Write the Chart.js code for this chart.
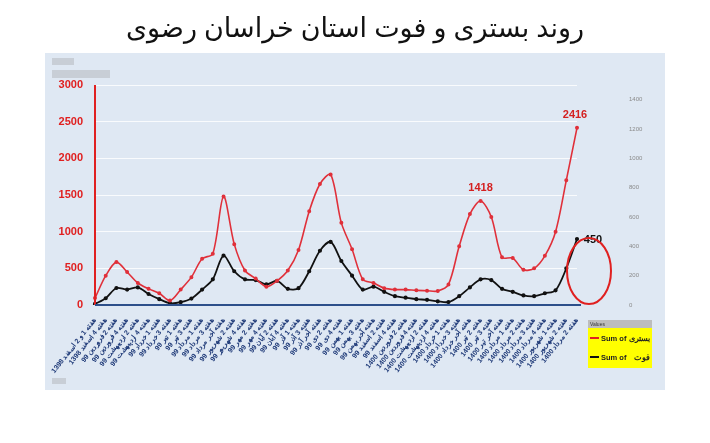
<!DOCTYPE html>
<html>
<head>
<meta charset="utf-8">
<script src="https://cdn.jsdelivr.net/npm/chart.js@4"></script>
<style>
  body { margin: 0; background: #fff; width: 710px; height: 443px; overflow: hidden; }
  #title { position: absolute; top: 8px; left: 0; width: 710px; text-align: center; font-family: "Noto Sans", "DejaVu Sans", sans-serif; font-size: 27px; color: #111; direction: rtl; }
  #wrap { position: absolute; left: 0; top: 0; width: 710px; height: 443px; }
</style>
</head>
<body>
<div id="wrap"><canvas id="c" width="710" height="443"></canvas></div>
<div id="title">روند بستری و فوت استان خراسان رضوی</div>
<script>
// weekly labels (Persian calendar)
const weeks = [
  'هفته 1 و 2 اسفند 1398', 'هفته 4 اسفند 1398', 'هفته 2 فروردین 99', 'هفته 4 فروردین 99',
  'هفته 2 اردیبهشت 99', 'هفته 4 اردیبهشت 99', 'هفته 1 خرداد 99', 'هفته 3 خرداد 99',
  'هفته 1 تیر 99', 'هفته 3 تیر 99', 'هفته 1 مرداد 99', 'هفته 3 مرداد 99',
  'هفته آخر مرداد 99', 'هفته 2 شهریور 99', 'هفته 4 شهریور 99', 'هفته 2 مهر 99',
  'هفته 4 مهر 99', 'هفته 2 آبان 99', 'هفته 4 آبان 99', 'هفته 1 آذر 99',
  'هفته 3 آذر 99', 'هفته آخر آذر 99', 'هفته 2 دی 99', 'هفته 4 دی 99',
  'هفته 1 بهمن 99', 'هفته 3 بهمن 99', 'هفته آخر بهمن 99', 'هفته 2 اسفند 99',
  'هفته 4 اسفند 99', 'هفته 2 فروردین 1400', 'هفته 4 فروردین 1400', 'هفته 2 اردیبهشت 1400',
  'هفته 4 اردیبهشت 1400', 'هفته 1 خرداد 1400', 'هفته 3 خرداد 1400', 'هفته آخر خرداد 1400',
  'هفته 2 تیر 1400', 'هفته 3 تیر 1400', 'هفته آخر تیر 1400', 'هفته 1 مرداد 1400',
  'هفته 2 مرداد 1400', 'هفته 3 مرداد 1400', 'هفته 4 مرداد 1400', 'هفته 1 شهریور 1400',
  'هفته 2 شهریور 1400', 'هفته 2 مرداد 1400'
];
// بستری (left axis)
const hospital = [94, 400, 585, 450, 300, 220, 160, 60, 210, 380, 630, 700, 1480, 830, 470, 360,
  250, 330, 470, 750, 1280, 1650, 1780, 1120, 760, 350, 300, 230, 210, 210, 200, 195,
  190, 280, 800, 1240, 1418, 1200, 650, 640, 480, 500, 670, 1000, 1700, 2416];
// فوت (right axis)
const deaths = [7, 46, 116, 105, 120, 75, 40, 12, 19, 44, 105, 175, 337, 230, 175, 170,
  140, 165, 110, 115, 230, 370, 430, 300, 200, 105, 125, 90, 60, 50, 40, 35,
  25, 20, 60, 120, 175, 170, 110, 90, 65, 60, 80, 100, 250, 450];

const font = '"Liberation Sans", Arial, sans-serif';

const decor = {
  id: 'decor',
  beforeDraw(chart) {
    const ctx = chart.ctx;
    ctx.save();
    ctx.fillStyle = '#dfe8f3';
    ctx.fillRect(45, 53, 620, 337);
    // small pivot buttons
    ctx.fillStyle = '#c8ced6';
    ctx.fillRect(52, 58, 22, 7);
    ctx.fillRect(52, 70, 58, 8);
    ctx.fillRect(52, 378, 14, 6);
    ctx.restore();
  },
  afterDraw(chart) {
    const ctx = chart.ctx;
    const x = chart.scales.x, yl = chart.scales.y, yr = chart.scales.y1;
    const a = chart.chartArea;
    ctx.save();
    // axes lines
    ctx.strokeStyle = '#e02020'; ctx.lineWidth = 2;
    ctx.beginPath(); ctx.moveTo(a.left, a.bottom); ctx.lineTo(a.left, yl.getPixelForValue(3000)); ctx.stroke();
    ctx.strokeStyle = '#2d4f8a';
    ctx.beginPath(); ctx.moveTo(a.left, a.bottom); ctx.lineTo(a.right + 4, a.bottom); ctx.stroke();
    // annotations
    ctx.font = 'bold 11px ' + font;
    ctx.textAlign = 'center';
    ctx.fillStyle = '#d42020';
    let i = 36;
    ctx.fillText('1418', x.getPixelForValue(i), yl.getPixelForValue(hospital[i]) - 10);
    i = hospital.length - 1;
    ctx.fillText('2416', x.getPixelForValue(i) - 2, yl.getPixelForValue(hospital[i]) - 10);
    ctx.fillStyle = '#111';
    ctx.fillText('450', x.getPixelForValue(i) + 16, yr.getPixelForValue(deaths[i]) + 4);
    // red ellipse
    ctx.strokeStyle = '#e02020'; ctx.lineWidth = 2;
    ctx.beginPath();
    ctx.ellipse(x.getPixelForValue(i) + 12, yr.getPixelForValue(deaths[i]) + 32, 22, 33, 0, 0, Math.PI * 2);
    ctx.stroke();
    // legend
    ctx.fillStyle = '#bdbdbd'; ctx.fillRect(588, 320, 64, 8);
    ctx.fillStyle = '#ffff00'; ctx.fillRect(588, 328, 64, 40);
    ctx.font = '5px ' + font; ctx.fillStyle = '#333'; ctx.textAlign = 'left';
    ctx.fillText('Values', 590, 326);
    ctx.font = 'bold 7.5px ' + font;
    [['#e02020', 'بستری', 338], ['#111', 'فوت', 357]].forEach(([c, t, yy]) => {
      ctx.strokeStyle = c; ctx.lineWidth = 2;
      ctx.beginPath(); ctx.moveTo(590, yy); ctx.lineTo(599, yy); ctx.stroke();
      ctx.fillStyle = '#222';
      ctx.textAlign = 'left';
      ctx.fillText('Sum of', 601, yy + 3);
      ctx.textAlign = 'right';
      ctx.fillText(t, 650, yy + 3);
    });
    ctx.restore();
  }
};

new Chart(document.getElementById('c'), {
  type: 'line',
  data: {
    labels: weeks,
    datasets: [
      { label: 'بستری Sum of', data: hospital, yAxisID: 'y', borderColor: '#e0303a', backgroundColor: '#e0303a',
        borderWidth: 1.6, pointRadius: 1.2, tension: 0.3 },
      { label: 'فوت Sum of', data: deaths, yAxisID: 'y1', borderColor: '#111', backgroundColor: '#111',
        borderWidth: 1.8, pointRadius: 1.2, tension: 0.3 }
    ]
  },
  options: {
    responsive: false,
    animation: false,
    layout: { padding: { left: 45, right: 63, top: 85, bottom: 50 } },
    plugins: { legend: { display: false }, tooltip: { enabled: false } },
    scales: {
      x: {
        grid: { display: false },
        border: { display: false },
        afterFit: s => { s.height = 88; },
        ticks: { autoSkip: false, minRotation: 52, maxRotation: 52, color: '#1f3a78', font: { family: font, size: 7, weight: 'bold' } }
      },
      y: {
        position: 'left', min: 0, max: 3000,
        afterFit: s => { s.width = 50; },
        border: { display: false },
        grid: { color: 'rgba(255,255,255,0.8)', drawTicks: false },
        ticks: { stepSize: 500, padding: 12, color: '#e02020', font: { family: font, size: 11, weight: 'bold' },
          callback: v => String(v) }
      },
      y1: {
        position: 'right', min: 0, max: 1500,
        afterFit: s => { s.width = 70; },
        border: { display: false },
        grid: { display: false, drawTicks: false },
        ticks: { stepSize: 200, padding: 52, color: '#8a8a8a', font: { family: font, size: 6 },
          callback: v => v > 1400 ? '' : String(v) }
      }
    }
  },
  plugins: [decor]
});
</script>
</body>
</html>
